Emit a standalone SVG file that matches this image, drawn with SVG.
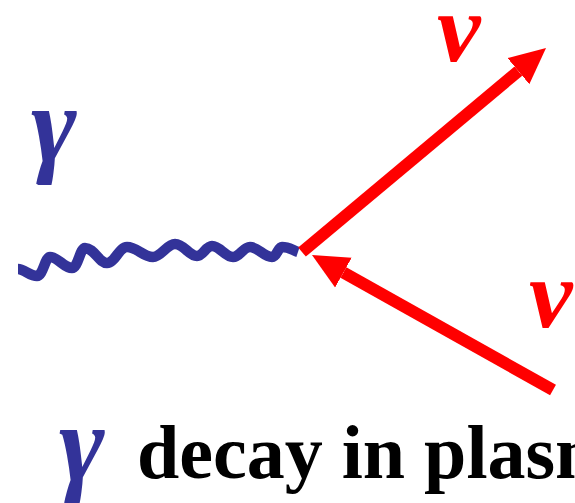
<svg xmlns="http://www.w3.org/2000/svg" width="575" height="503" viewBox="0 0 575 503">
  <style>
    .photon { fill: none; stroke: #333399; stroke-width: 10.5; stroke-linecap: butt; stroke-linejoin: round; }
    .fermion { fill: none; stroke: #FF0000; stroke-width: 12; stroke-linecap: butt; marker-end: url(#head); }
    .greek { font-family: "Liberation Serif", "Times New Roman", serif; font-style: italic; }
    .nu { fill: #FF0000; font-weight: bold; font-size: 98px; }
    .gamma { fill: #333399; font-weight: bold; font-size: 110px; }
    .caption { font-family: "Liberation Serif", "Times New Roman", serif; font-weight: bold; font-size: 76px; fill: #000000; }
  </style>
  <defs>
    <marker id="head" markerUnits="userSpaceOnUse" markerWidth="40" markerHeight="40" viewBox="0 -20 40 40" refX="0" refY="0" orient="auto">
      <path d="M0,-17 L36,0 L0,17 z" fill="#FF0000"/>
    </marker>
  </defs>
  <rect width="575" height="503" fill="#FFFFFF"/>

  <g id="connectors">
    <path id="photon" class="photon" d="M18,269 C24,269 30,276 37,276 C43,276 45,257 50,257 C58,257 64,268 72,268 C78,268 80,248 85,248 C94,248 99,263 107,263 C115,263 119,247 127,247 C137,247 143,257 153,257 C161,257 167,244 175,244 C184,244 189,256 197,256 C203,256 206,246 212,246 C220,246 225,257 233,257 C240,257 243,247 250,247 C258,247 264,257 272,257 C277,257 278,247 282,247 C289,247 292,250 298,252"/>
    <path id="nu-out" class="fermion" d="M302,252 L518.4,71.1"/>
    <path id="nu-in" class="fermion" d="M553,390 L343.4,272.6"/>
  </g>

  <g id="label-gamma">
    <text class="greek gamma" x="31" y="162">γ</text>
  </g>
  <g id="label-nu-top">
    <text class="greek nu" x="437" y="61">ν</text>
  </g>
  <g id="label-nu-right">
    <text class="greek nu" x="529" y="327">ν</text>
  </g>
  <g id="caption">
    <text class="greek gamma" x="59" y="481">γ</text>
    <text class="caption" x="137" y="478">decay in plasma</text>
  </g>
</svg>
